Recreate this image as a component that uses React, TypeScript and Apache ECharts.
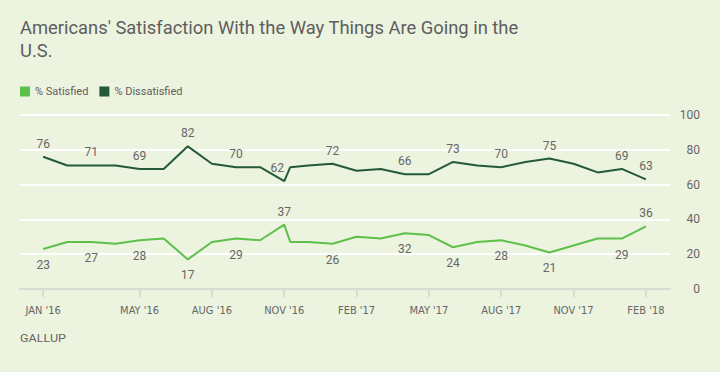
import React, { useEffect, useRef } from "react";
import * as echarts from "echarts";

// Month offsets from Jan 2016 (Nov 2016 has two readings)
const monthPos = [0, 1, 2, 3, 4, 5, 6, 7, 8, 9, 10, 10.25, 11, 12, 13, 14, 15, 16, 17, 18, 19, 20, 21, 22, 23, 24, 25];
const satisfied = [23, 27, 27, 26, 28, 29, 17, 27, 29, 28, 37, 27, 27, 26, 30, 29, 32, 31, 24, 27, 28, 25, 21, 25, 29, 29, 36];
const dissatisfied = [76, 71, 71, 71, 69, 69, 82, 72, 70, 70, 62, 70, 71, 72, 68, 69, 66, 66, 73, 71, 70, 73, 75, 72, 67, 69, 63];
const labeledPoints = [0, 2, 4, 6, 8, 10, 13, 16, 18, 20, 22, 25, 26];
const satisfiedAbove = [10, 26];
const tickPos = [0, 4, 7, 10, 13, 16, 19, 22, 25];
const tickLabels = ["JAN '16", "MAY '16", "AUG '16", "NOV '16", "FEB '17", "MAY '17", "AUG '17", "NOV '17", "FEB '18"];
const yTicks = [0, 20, 40, 60, 80, 100];

const TITLE_LINES = ["Americans' Satisfaction With the Way Things Are Going in the", "U.S."];
const BG = "#ecf3df";
const LIGHT = "#5ebf4b";
const DARK = "#245a37";
const COND = "'DejaVu Sans Condensed', Roboto, sans-serif";
const SANS = "Roboto, 'Liberation Sans', sans-serif";

function measure(text: string, font: string): number {
  const c = document.createElement("canvas").getContext("2d");
  if (!c) return 0;
  c.font = font;
  return c.measureText(text).width;
}

export default function App() {
  const ref = useRef<HTMLDivElement>(null);
  useEffect(() => {
    if (!ref.current) return;
    const chart = echarts.init(ref.current, undefined, { renderer: "svg" });

    const titleW = measure(TITLE_LINES[0], "19px Roboto");
    const titleScale = titleW > 0 ? 499 / titleW : 0.9;
    const gallupW = measure("GALLUP", "11px Roboto");
    const gallupScale = gallupW > 0 ? 46 / gallupW : 1.1;

    const darkData = monthPos.map((m, i) => ({
      value: [m, dissatisfied[i]],
      label: {
        show: labeledPoints.includes(i),
        position: "top",
        distance: 7,
        offset: i === 10 ? [-7, 0] : [0, 0],
      },
    }));
    const lightData = monthPos.map((m, i) => ({
      value: [m, satisfied[i]],
      label: {
        show: labeledPoints.includes(i),
        position: satisfiedAbove.includes(i) ? "top" : "bottom",
        distance: satisfiedAbove.includes(i) ? 7 : 10,
      },
    }));

    chart.setOption({
      animation: false,
      backgroundColor: BG,
      legend: {
        left: 20,
        top: 86,
        padding: 0,
        icon: "rect",
        itemWidth: 10,
        itemHeight: 10,
        itemGap: 11,
        textStyle: { fontFamily: SANS, fontSize: 11, color: "#5e5e5e" },
        data: ["% Satisfied", "% Dissatisfied"],
      },
      grid: { left: 20, right: 50, top: 115, bottom: 83 },
      xAxis: {
        type: "value",
        min: -0.96,
        max: 26,
        splitLine: { show: false },
        axisLine: { show: true, lineStyle: { color: "#d8dcd2", width: 2 } },
        axisTick: {
          show: true,
          customValues: tickPos,
          length: 8,
          lineStyle: { color: "#d8dcd2", width: 2 },
        },
        axisLabel: {
          customValues: tickPos,
          formatter: (v: number) => {
            const k = tickPos.indexOf(Math.round(v));
            return k >= 0 ? tickLabels[k] : "";
          },
          margin: 16,
          fontFamily: COND,
          fontSize: 11,
          color: "#666",
        },
      },
      yAxis: {
        type: "value",
        position: "right",
        min: 0,
        max: 100,
        interval: 20,
        axisLine: { show: false },
        axisTick: { show: false },
        splitLine: {
          show: true,
          lineStyle: { color: "#ffffff", width: 2 },
        },
        axisLabel: {
          customValues: yTicks,
          align: "right",
          margin: 30,
          fontFamily: SANS,
          fontSize: 12,
          color: "#666",
        },
      },
      series: [
        {
          name: "% Satisfied",
          type: "line",
          data: lightData,
          showSymbol: true,
          symbol: "circle",
          symbolSize: 0,
          lineStyle: { color: LIGHT, width: 2 },
          itemStyle: { color: LIGHT },
          label: { fontFamily: SANS, fontSize: 12, color: "#666" },
          z: 3,
        },
        {
          name: "% Dissatisfied",
          type: "line",
          data: darkData,
          showSymbol: true,
          symbol: "circle",
          symbolSize: 0,
          lineStyle: { color: DARK, width: 2 },
          itemStyle: { color: DARK },
          label: { fontFamily: SANS, fontSize: 12, color: "#666" },
          z: 3,
        },
      ],
      graphic: [
        {
          type: "text",
          x: 20,
          y: 18,
          scaleX: titleScale,
          style: {
            text: TITLE_LINES[0],
            fontFamily: "Roboto",
            fontSize: 19,
            fill: "#5e5e5e",
          },
        },
        {
          type: "text",
          x: 20,
          y: 41,
          scaleX: titleScale,
          style: {
            text: TITLE_LINES[1],
            fontFamily: "Roboto",
            fontSize: 19,
            fill: "#5e5e5e",
          },
        },
        {
          type: "text",
          x: 20,
          y: 333,
          scaleX: gallupScale,
          style: {
            text: "GALLUP",
            fontFamily: "Roboto",
            fontSize: 11,
            fill: "#666",
          },
        },
      ],
    });
    return () => chart.dispose();
  }, []);

  return (
    <div
      ref={ref}
      style={{ position: "fixed", left: 0, top: 0, width: 720, height: 372, background: BG }}
    />
  );
}
